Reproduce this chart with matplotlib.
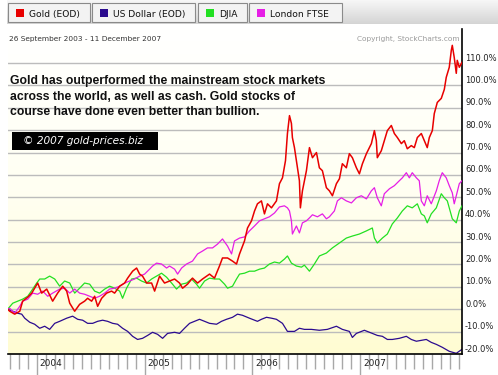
import numpy as np
import matplotlib
matplotlib.use('Agg')
import matplotlib.pyplot as plt
from matplotlib.patches import Rectangle
from matplotlib.colors import LinearSegmentedColormap

W, H = 498, 375

# legend entries
names = ['Gold (EOD)', 'US Dollar (EOD)', 'DJIA', 'London FTSE']
colors = ['#e80000', '#2b0b8f', '#22e022', '#e61ee6']

# % change since 26 Sep 2003, time in decimal years
gold_t = [2003.731, 2003.750, 2003.796, 2003.843, 2003.870, 2003.917, 2003.954, 2004.009, 2004.046, 2004.093,
          2004.148, 2004.194, 2004.241, 2004.278, 2004.306, 2004.352, 2004.398, 2004.444, 2004.472, 2004.509,
          2004.537, 2004.565, 2004.602, 2004.648, 2004.694, 2004.722, 2004.769, 2004.815, 2004.843, 2004.889,
          2004.926, 2004.954, 2004.981, 2005.019, 2005.065, 2005.093, 2005.139, 2005.185, 2005.231, 2005.278,
          2005.324, 2005.352, 2005.398, 2005.444, 2005.491, 2005.537, 2005.602, 2005.648, 2005.694, 2005.722,
          2005.769, 2005.815, 2005.852, 2005.880, 2005.926, 2005.954, 2005.991, 2006.019, 2006.046, 2006.083,
          2006.111, 2006.139, 2006.176, 2006.222, 2006.250, 2006.278, 2006.306, 2006.324, 2006.343, 2006.361,
          2006.370, 2006.389, 2006.417, 2006.435, 2006.444, 2006.463, 2006.500, 2006.528, 2006.556, 2006.593,
          2006.620, 2006.648, 2006.685, 2006.713, 2006.741, 2006.778, 2006.806, 2006.833, 2006.870, 2006.898,
          2006.926, 2006.963, 2006.991, 2007.019, 2007.056, 2007.102, 2007.130, 2007.148, 2007.157, 2007.194,
          2007.222, 2007.250, 2007.287, 2007.315, 2007.343, 2007.380, 2007.407, 2007.435, 2007.472, 2007.500,
          2007.528, 2007.565, 2007.593, 2007.620, 2007.639, 2007.667, 2007.685, 2007.713, 2007.750, 2007.778,
          2007.796, 2007.824, 2007.843, 2007.852, 2007.870, 2007.889, 2007.898, 2007.917, 2007.942]
gold_v = [0.0, -0.9, -2.2, -0.9, 3.6, 5.4, 7.2, 11.7, 7.2, 9.0,
          3.6, 7.2, 10.3, 8.1, 2.7, -0.9, 2.2, 3.6, 4.9, 3.6,
          5.8, 1.3, 4.9, 7.2, 8.1, 7.2, 10.3, 11.7, 13.9, 17.0,
          18.4, 15.7, 14.8, 11.7, 11.7, 8.1, 14.8, 11.7, 12.6, 13.5,
          11.7, 9.4, 11.2, 13.9, 11.7, 13.5, 15.7, 13.9, 19.3, 22.9,
          22.9, 21.5, 20.2, 24.7, 30.5, 36.3, 39.5, 43.9, 47.1, 48.4,
          42.6, 47.1, 45.3, 48.4, 56.1, 58.7, 66.4, 78.5, 86.5, 83.0,
          76.7, 72.2, 63.2, 57.4, 45.3, 52.9, 61.9, 72.2, 67.7, 70.0,
          63.2, 61.9, 54.3, 52.9, 50.7, 56.1, 58.3, 65.0, 63.2, 69.5,
          67.7, 63.2, 60.5, 65.0, 69.5, 74.0, 79.8, 75.3, 67.7, 70.8,
          75.3, 79.8, 82.1, 78.5, 76.7, 74.0, 75.3, 71.7, 73.1, 72.2,
          76.7, 78.5, 75.3, 72.2, 76.7, 79.8, 87.4, 92.4, 94.2, 98.2,
          103.6, 108.1, 115.7, 117.9, 112.5, 105.4, 111.2, 108.1, 110.3]

usd_t = [2003.731, 2003.778, 2003.824, 2003.861, 2003.889, 2003.935, 2003.981, 2004.028, 2004.074, 2004.120,
         2004.167, 2004.213, 2004.278, 2004.333, 2004.380, 2004.426, 2004.472, 2004.519, 2004.565, 2004.611,
         2004.657, 2004.704, 2004.750, 2004.796, 2004.843, 2004.889, 2004.935, 2004.981, 2005.028, 2005.074,
         2005.120, 2005.167, 2005.213, 2005.278, 2005.324, 2005.370, 2005.417, 2005.463, 2005.509, 2005.556,
         2005.602, 2005.667, 2005.713, 2005.759, 2005.815, 2005.861, 2005.907, 2005.972, 2006.046, 2006.083,
         2006.130, 2006.176, 2006.222, 2006.278, 2006.324, 2006.389, 2006.435, 2006.481, 2006.546, 2006.620,
         2006.694, 2006.778, 2006.833, 2006.898, 2006.926, 2006.963, 2007.037, 2007.111, 2007.157, 2007.204,
         2007.250, 2007.296, 2007.361, 2007.426, 2007.472, 2007.519, 2007.565, 2007.611, 2007.657, 2007.704,
         2007.759, 2007.824, 2007.889, 2007.942]
usd_v = [0.0, -0.9, -1.8, -2.2, -4.0, -5.8, -6.7, -8.5, -7.6, -9.0,
         -6.3, -5.4, -4.0, -3.1, -4.5, -4.9, -6.3, -6.3, -5.4, -4.9,
         -5.4, -6.3, -6.7, -8.5, -9.9, -12.1, -13.5, -13.0, -11.7, -10.3,
         -11.2, -13.0, -10.8, -10.3, -10.8, -8.5, -6.3, -5.4, -4.5, -5.4,
         -6.3, -6.7, -5.4, -4.5, -3.6, -2.2, -2.7, -4.0, -5.4, -4.5,
         -3.6, -4.0, -4.5, -6.3, -9.9, -9.9, -8.5, -9.0, -9.0, -9.4,
         -9.0, -7.6, -9.0, -9.9, -12.6, -10.8, -9.4, -10.8, -11.7, -12.1,
         -13.5, -13.5, -13.0, -12.1, -13.5, -14.3, -13.9, -13.5, -14.8, -15.7,
         -17.0, -18.8, -19.7, -17.9]

djia_t = [2003.731, 2003.778, 2003.824, 2003.870, 2003.917, 2003.963, 2004.000, 2004.028, 2004.074, 2004.120,
          2004.167, 2004.213, 2004.259, 2004.306, 2004.352, 2004.398, 2004.444, 2004.491, 2004.537, 2004.583,
          2004.630, 2004.676, 2004.722, 2004.769, 2004.796, 2004.833, 2004.880, 2004.926, 2004.972, 2005.019,
          2005.065, 2005.111, 2005.157, 2005.204, 2005.259, 2005.296, 2005.343, 2005.389, 2005.435, 2005.481,
          2005.509, 2005.556, 2005.602, 2005.648, 2005.694, 2005.741, 2005.769, 2005.815, 2005.852, 2005.880,
          2005.926, 2005.972, 2006.019, 2006.065, 2006.111, 2006.157, 2006.204, 2006.250, 2006.296, 2006.324,
          2006.361, 2006.407, 2006.454, 2006.481, 2006.528, 2006.574, 2006.620, 2006.685, 2006.741, 2006.806,
          2006.870, 2006.926, 2006.991, 2007.056, 2007.111, 2007.130, 2007.157, 2007.204, 2007.250, 2007.296,
          2007.343, 2007.389, 2007.435, 2007.481, 2007.528, 2007.565, 2007.593, 2007.620, 2007.657, 2007.704,
          2007.750, 2007.778, 2007.806, 2007.852, 2007.889, 2007.917, 2007.942]
djia_v = [0.0, 2.7, 3.6, 4.5, 5.8, 9.0, 11.7, 13.5, 13.5, 14.8,
          13.5, 10.3, 12.6, 11.7, 7.2, 9.4, 11.7, 11.2, 8.1, 7.2,
          9.0, 10.3, 9.4, 8.1, 4.9, 9.4, 13.5, 13.9, 12.6, 11.7,
          13.5, 14.8, 16.1, 14.3, 11.2, 9.0, 11.2, 11.7, 13.5, 11.2,
          9.4, 12.6, 13.9, 13.5, 13.5, 11.2, 9.4, 10.3, 13.5, 15.7,
          16.1, 17.0, 17.0, 17.9, 18.4, 20.2, 21.1, 20.6, 22.4, 23.8,
          20.6, 19.3, 18.8, 19.7, 17.0, 20.2, 23.8, 25.1, 27.4, 29.6,
          31.8, 32.7, 33.6, 35.0, 36.3, 31.8, 29.6, 31.8, 33.6, 38.1,
          40.8, 43.9, 46.2, 45.3, 47.1, 42.6, 41.7, 38.6, 42.6, 45.3,
          51.6, 49.8, 48.4, 40.4, 38.6, 43.9, 46.2]

ftse_t = [2003.731, 2003.750, 2003.796, 2003.843, 2003.870, 2003.917, 2003.963, 2004.009, 2004.056, 2004.102,
          2004.148, 2004.213, 2004.259, 2004.306, 2004.352, 2004.398, 2004.444, 2004.491, 2004.537, 2004.583,
          2004.630, 2004.676, 2004.722, 2004.769, 2004.815, 2004.861, 2004.907, 2004.954, 2005.000, 2005.046,
          2005.074, 2005.111, 2005.157, 2005.204, 2005.231, 2005.278, 2005.306, 2005.343, 2005.389, 2005.444,
          2005.491, 2005.537, 2005.583, 2005.630, 2005.676, 2005.722, 2005.769, 2005.806, 2005.833, 2005.880,
          2005.926, 2005.972, 2006.019, 2006.065, 2006.111, 2006.157, 2006.204, 2006.250, 2006.296, 2006.324,
          2006.343, 2006.361, 2006.370, 2006.407, 2006.435, 2006.463, 2006.500, 2006.528, 2006.556, 2006.602,
          2006.648, 2006.685, 2006.713, 2006.759, 2006.787, 2006.824, 2006.870, 2006.917, 2006.963, 2007.009,
          2007.056, 2007.102, 2007.130, 2007.157, 2007.194, 2007.222, 2007.269, 2007.315, 2007.361, 2007.389,
          2007.426, 2007.454, 2007.481, 2007.519, 2007.546, 2007.565, 2007.593, 2007.620, 2007.657, 2007.704,
          2007.731, 2007.759, 2007.796, 2007.824, 2007.852, 2007.870, 2007.889, 2007.917, 2007.942]
ftse_v = [0.0, 0.4, -1.8, 1.3, 3.6, 4.5, 7.2, 6.7, 8.1, 5.8,
          7.2, 9.0, 9.4, 7.2, 9.0, 7.2, 6.7, 5.8, 4.9, 5.8,
          7.2, 9.0, 9.4, 10.3, 11.7, 12.6, 13.5, 14.8, 15.7, 17.9,
          19.3, 20.6, 20.2, 18.4, 19.3, 17.9, 15.7, 18.4, 20.2, 21.5,
          24.7, 26.0, 27.4, 27.4, 29.1, 31.4, 28.2, 24.7, 30.5, 31.8,
          32.3, 35.0, 37.2, 39.5, 40.4, 41.3, 43.0, 45.7, 46.2, 45.3,
          43.9, 39.5, 33.6, 37.2, 34.1, 38.6, 39.5, 40.8, 42.2, 41.3,
          42.6, 40.4, 41.3, 43.9, 48.4, 49.8, 48.4, 47.5, 49.8, 50.7,
          49.3, 52.9, 54.3, 49.8, 46.2, 51.6, 53.8, 55.2, 57.4, 58.7,
          61.0, 58.7, 61.0, 58.7, 57.4, 48.4, 46.2, 50.7, 47.1, 52.9,
          57.4, 61.0, 58.7, 55.2, 52.0, 47.1, 50.7, 56.1, 57.4]

years = [2004, 2005, 2006, 2007]
yticks = list(range(-20, 111, 10))
ylabels = ['%.1f%%' % v for v in yticks]

text_lines = ['Gold has outperformed the mainstream stock markets',
              'across the world, as well as cash. Gold stocks of',
              'course have done even better than bullion.']


def fx(x):
    return x / W


def fy(y):
    return 1 - y / H


fig = plt.figure(figsize=(W / 100, H / 100), dpi=100)
fig.patch.set_facecolor('white')

# ---- main plot
x0, x1 = 2003.734, 2007.942
y0, y1 = -20, 125.2
ax = fig.add_axes([fx(8), 21 / H, 454 / W, 325 / H])
grad = np.linspace(0, 1, 256).reshape(-1, 1)
bg = LinearSegmentedColormap.from_list('bg', ['#fffcd2', '#fffff2', '#ffffff'])
ax.imshow(grad, extent=[x0, x1, y0, y1], origin='lower', aspect='auto', cmap=bg, zorder=0)

for v in yticks[1:]:
    ax.axhline(v, color='#bcbcbc', lw=1, zorder=1)

ax.plot(usd_t, usd_v, color=colors[1], lw=0.9, zorder=2)
ax.plot(djia_t, djia_v, color=colors[2], lw=0.9, zorder=3)
ax.plot(ftse_t, ftse_v, color=colors[3], lw=0.9, zorder=4)
ax.plot(gold_t, gold_v, color=colors[0], lw=1.1, zorder=5)

ax.set_xlim(x0, x1)
ax.set_ylim(y0, y1)
for s in ['left', 'top']:
    ax.spines[s].set_visible(False)
for s in ['right', 'bottom']:
    ax.spines[s].set_color('black')
    ax.spines[s].set_linewidth(1.2)

ax.set_yticks([])
for v, lab in zip(yticks, ylabels):
    ax.annotate(lab, xy=(1, v), xycoords=('axes fraction', 'data'), xytext=(3, 5),
                textcoords='offset pixels', ha='left', va='center', fontsize=6, color='#222222',
                annotation_clip=False)

months = [y + m / 12 for y in range(2003, 2008) for m in range(1, 12) if x0 < y + m / 12 < x1]
ax.set_xticks(years)
ax.set_xticks(months, minor=True)
ax.tick_params(axis='x', which='major', length=20, width=1, color='#a8a8a8', labelbottom=False)
ax.tick_params(axis='x', which='minor', length=11, width=1, color='#a8a8a8')
for yr in years:
    ax.annotate(str(yr), xy=(yr, 0), xycoords=('data', 'axes fraction'), xytext=(3, -10),
                textcoords='offset pixels', ha='left', va='center', fontsize=6.5, color='#222222',
                annotation_clip=False)

# ---- legend strip on top
strip = fig.add_axes([fx(7), fy(24), (W - 7) / W, 24 / H])
strip.imshow(grad, extent=[0, 1, 0, 1], origin='lower', aspect='auto',
             cmap=LinearSegmentedColormap.from_list('st', ['#d4d4d4', '#f7f7f7']))
strip.axis('off')

buttons = [(8, 90), (92, 195), (198, 247), (249, 342)]
for (bx0, bx1), name, c in zip(buttons, names, colors):
    fig.patches.append(Rectangle((fx(bx0), fy(22)), (bx1 - bx0) / W, 19 / H,
                                 transform=fig.transFigure, facecolor='#f3f3f3',
                                 edgecolor='#8a8a8a', lw=0.8, zorder=5))
    fig.patches.append(Rectangle((fx(bx0 + 8), fy(17)), 8 / W, 7.5 / H,
                                 transform=fig.transFigure, facecolor=c, edgecolor='none', zorder=6))
    fig.text(fx(bx0 + 21), fy(14.5), name, fontsize=6.6, color='#111111', va='center', ha='left', zorder=7)

fig.text(fx(9), fy(38.5), '26 September 2003 - 11 December 2007', fontsize=5.3, color='#333333',
         va='center', ha='left')
fig.text(fx(460), fy(38.5), 'Copyright, StockCharts.com', fontsize=5.3, color='#9a9a9a',
         va='center', ha='right')

# ---- annotation
for i, line in enumerate(text_lines):
    fig.text(fx(10), fy(84 + 15.6 * i), line, fontsize=8.8, weight='bold', family='Liberation Sans',
             color='#111111', va='baseline', ha='left', zorder=8)

fig.patches.append(Rectangle((fx(12), fy(150)), 146 / W, 18 / H, transform=fig.transFigure,
                             facecolor='black', edgecolor='none', zorder=8))
fig.text(fx(23), fy(141), '\u00a9 2007 gold-prices.biz', fontsize=7.6, style='italic',
         color='white', va='center', ha='left', zorder=9)

fig.savefig('out.png', dpi=100)
